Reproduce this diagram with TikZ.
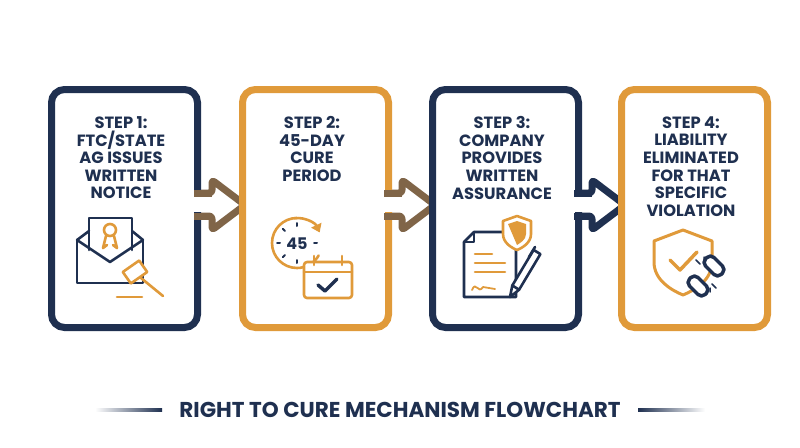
\documentclass[tikz,border=0pt]{standalone}
\usepackage{fontspec}
\setmainfont{Poppins}[BoldFont={* Bold}]
\usetikzlibrary{arrows.meta}
\definecolor{navy}{HTML}{1F3050}
\definecolor{ora}{HTML}{E09A3A}
\definecolor{mid}{HTML}{806548}
\begin{document}
\begin{tikzpicture}[x=1pt,y=-1pt,
  box/.style={draw=#1,line width=7pt,rounded corners=13pt,fill=white},
  lbl/.style={text=navy,font=\bfseries\fontsize{16.3}{17.6}\selectfont,align=center,anchor=north},
  arr/.style={draw=#1,line width=7pt,fill=white,rounded corners=3pt,line join=round},
  ic/.style={line width=2.6pt,line cap=round,line join=round}]
\useasboundingbox (0,0) rectangle (800,447);
\fill[white] (0,0) rectangle (800,447);
% arrows (behind boxes)
\foreach \x/\c in {197/mid,387/mid,577/navy}{
  \draw[arr=\c] (\x-10,193) -- (\x+15,193) -- (\x+15,180) -- (\x+48,205) -- (\x+15,230) -- (\x+15,216) -- (\x-10,216) -- cycle;}
\node[box=navy,minimum width=146pt,minimum height=238pt,anchor=north west] (b1) at (48,86) {};
\node[box=ora,minimum width=146pt,minimum height=238pt,anchor=north west] (b2) at (239,86) {};
\node[box=navy,minimum width=146pt,minimum height=238pt,anchor=north west] (b3) at (429,86) {};
\node[box=ora,minimum width=146pt,minimum height=238pt,anchor=north west] (b4) at (618,86) {};
\foreach \x/\c in {197/mid,387/mid,577/navy}{
  \fill[white] (\x-6,197) rectangle (\x+18,212);
  \draw[\c,line width=7pt] (\x-3,193) -- (\x+15,193) (\x-3,216) -- (\x+15,216);}
\node[lbl] (t1) at (121,113) {STEP 1:\\FTC/STATE\\AG ISSUES\\WRITTEN\\NOTICE};
\node[lbl] (t2) at (312,113) {STEP 2:\\45-DAY\\CURE\\PERIOD};
\node[lbl] (t3) at (502,113) {STEP 3:\\COMPANY\\PROVIDES\\WRITTEN\\ASSURANCE};
\node[lbl] (t4) at (691,113) {STEP 4:\\LIABILITY\\ELIMINATED\\FOR THAT\\SPECIFIC\\VIOLATION};
% icon 1: envelope, certificate, gavel
\draw[ic,navy,fill=white] (77,240) -- (77,283) -- (143,283) -- (143,240);
\draw[ic,navy,fill=white] (89,250) -- (89,218) -- (132,218) -- (132,250);
\draw[ic,ora] (110,230) circle (6);
\draw[ic,ora] (106,236) -- (103,248) -- (107,245) (114,236) -- (117,248) -- (113,245);
\draw[ic,navy] (77,240) -- (89,231) (143,240) -- (132,231) (77,240) -- (110,262) -- (143,240);
\draw[ic,ora,fill=white,rotate around={35:(135,272)}] (125,265) rectangle (145,279);
\draw[ic,ora] (141,278) -- (163,296);
\draw[ic,ora] (117,297) -- (142,297);
% icon 2: clock + calendar
\draw[ic,ora] (297,243) ++(-90:25) arc (-90:-330:25);
\draw[ic,ora,-{Triangle[width=11pt,length=8pt]}] (297,243) ++(-95:25) arc (-95:-25:25);
\foreach \a in {0,90,180,270,135,225}{\draw[navy,line width=2pt,line cap=round] (297,243)++(\a:17) -- ++(\a:3);}
\node[text=navy,font=\bfseries\fontsize{16}{16}\selectfont] (n45) at (297,244) {45};
\draw[ic,ora,fill=white,rounded corners=3pt] (304,262) rectangle (352,298);
\draw[ic,ora] (304,272) -- (352,272) (314,256) -- (314,265) (342,256) -- (342,265);
\draw[ic,navy,line width=3.5pt] (318,285) -- (325,291) -- (337,279);
% icon 3: document, shield, pen
\draw[ic,navy,fill=white] (474,232) -- (516,232) -- (516,297) -- (464,297) -- (464,242) -- cycle;
\draw[ic,navy] (464,242) -- (474,242) -- (474,232);
\draw[ic,ora] (475,254) -- (492,254) (475,263) -- (505,263) (475,272) -- (505,272);
\draw[ic,ora,line width=1.8pt] (472,290) .. controls (476,280) and (478,295) .. (483,287) -- (495,289);
\draw[ic,ora,fill=white] (503,221) -- (517,216) -- (531,221) -- (531,234) .. controls (531,243) and (522,248) .. (517,250) .. controls (512,248) and (503,243) .. (503,234) -- cycle;
\fill[ora] (508,224) -- (517,221) -- (526,224) -- (526,234) .. controls (526,240) and (520,243) .. (517,245) -- cycle;
\draw[ic,navy,fill=white] (510,297) -- (519.1,289.7) -- (540.4,254.1) -- (533.6,249.9) -- (512.3,285.5) -- cycle;
\draw[ic,navy] (512.3,285.5) -- (519.1,289.7) (535,247) -- (529,257);
% icon 4: shield + broken link
\draw[ic,ora,line width=3pt,fill=white] (654,241) -- (683,230) -- (712,241) -- (712,262) .. controls (712,280) and (695,290) .. (683,295) .. controls (671,290) and (654,280) .. (654,262) -- cycle;
\draw[ic,ora,line width=3.5pt] (670,260) -- (680,270) -- (697,252);
\draw[ic,navy,line width=3.5pt,fill=white,rounded corners=5pt,rotate around={-45:(714,266)}] (703,260) rectangle (725,272);
\draw[ic,navy,line width=3.5pt,fill=white,rounded corners=5pt,rotate around={-45:(698,286)}] (687,280) rectangle (709,292);
\draw[navy,line width=1.5pt,line cap=round] (700,264) -- (696,260) (704,262) -- (704,257) (712,284) -- (716,288) (710,288) -- (710,292);
% title
\node[text=navy,font=\bfseries\fontsize{21.5}{22}\selectfont] (title) at (400,410) {RIGHT TO CURE MECHANISM FLOWCHART};
\shade[left color=white,right color=navy] (95,408.5) rectangle (162,411.5);
\shade[left color=navy,right color=white] (638,408.5) rectangle (705,411.5);
\end{tikzpicture}
\end{document}
